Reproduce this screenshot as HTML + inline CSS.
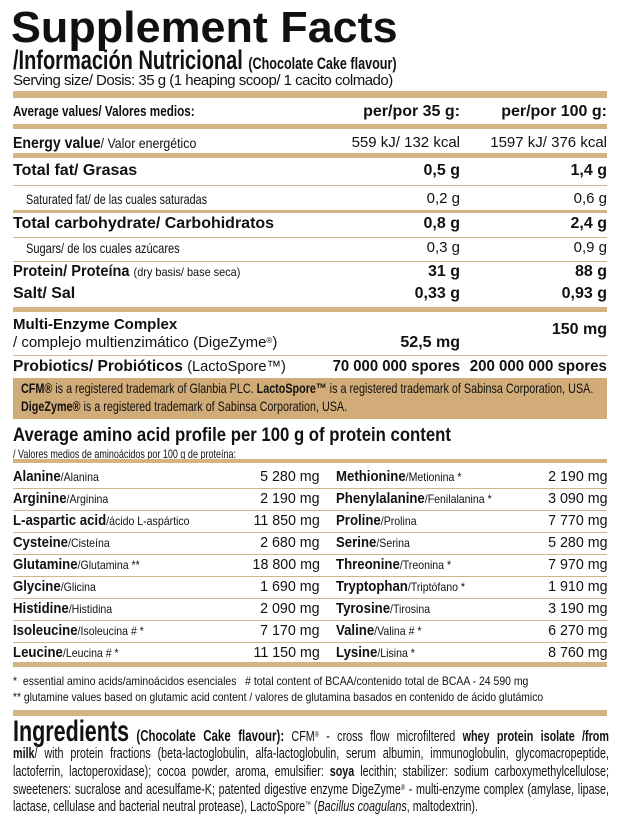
<!DOCTYPE html>
<html><head><meta charset="utf-8">
<style>
*{margin:0;padding:0;box-sizing:border-box}
body{width:625px;height:824px;background:#fff;position:relative;overflow:hidden;font-family:"Liberation Sans",sans-serif;color:#111}
.a{position:absolute;white-space:nowrap;line-height:20px;height:20px}
.L{left:13px;transform-origin:left center}
.R2{right:165px;text-align:right;transform-origin:right center}
.R3{right:18px;text-align:right;transform-origin:right center}
.b{font-weight:bold}
.bar{position:absolute;left:13px;width:594px;background:#d4b483}
.thin{position:absolute;left:13px;width:594px;height:1px;background:#cfb68c}
.f15{font-size:15px}.f14{font-size:14px}.f12{font-size:12px}
.m{font-size:15px}
.AL{left:13px;transform:scaleX(.88);transform-origin:left center}
.AV{right:305px;text-align:right;transform:scaleX(.95);transform-origin:right center}
.BL{left:336px;transform:scaleX(.88);transform-origin:left center}
.BV{right:17px;text-align:right;transform:scaleX(.95);transform-origin:right center}
sup{font-size:8px;vertical-align:4px;line-height:0}
.ing{position:absolute;left:13px;width:830px;font-size:15px;height:19px;line-height:19px;white-space:nowrap;transform:scaleX(.718);transform-origin:left center;text-align:justify;text-align-last:justify}
</style></head><body>
<div class="a b" style="left:11px;top:7px;height:42px;line-height:42px;font-size:44px;transform:scaleX(1.02);transform-origin:left center">Supplement Facts</div>
<div class="a b" style="left:13px;top:46px;height:28px;line-height:28px;font-size:27px;transform:scaleX(.74);transform-origin:left center">/Información Nutricional <span style="font-size:17px">(Chocolate Cake flavour)</span></div>
<div class="a f15" style="left:13px;top:71px;letter-spacing:-0.5px">Serving size/ Dosis: 35 g (1 heaping scoop/ 1 cacito colmado)</div>
<div class="bar" style="top:91px;height:7px"></div>
<div class="a b L" style="top:102px;font-size:15px;transform:scaleX(.78)">Average values/ Valores medios:</div>
<div class="a b R2" style="top:102px;font-size:16px">per/por 35 g:</div>
<div class="a b R3" style="top:102px;font-size:16px">per/por 100 g:</div>
<div class="bar" style="top:124px;height:5px"></div>
<div class="a L" style="top:133px;transform:scaleX(.88)"><b style="font-size:16px">Energy value</b><span class="f14">/ Valor energético</span></div>
<div class="a R2 m" style="top:133px">559 kJ/ 132 kcal</div>
<div class="a R3 m" style="top:133px">1597 kJ/ 376 kcal</div>
<div class="bar" style="top:153px;height:5px"></div>
<div class="a b L" style="top:161px;font-size:16px">Total fat/ Grasas</div>
<div class="a b R2" style="top:161px;font-size:16px">0,5 g</div>
<div class="a b R3" style="top:161px;font-size:16px">1,4 g</div>
<div class="thin" style="top:185px"></div>
<div class="a f14" style="left:26px;top:189px;transform:scaleX(.77);transform-origin:left center">Saturated fat/ de las cuales saturadas</div>
<div class="a R2 m" style="top:189px">0,2 g</div>
<div class="a R3 m" style="top:189px">0,6 g</div>
<div class="bar" style="top:210px;height:3px"></div>
<div class="a b L" style="top:214px;font-size:16px">Total carbohydrate/ Carbohidratos</div>
<div class="a b R2" style="top:214px;font-size:16px">0,8 g</div>
<div class="a b R3" style="top:214px;font-size:16px">2,4 g</div>
<div class="thin" style="top:237px"></div>
<div class="a f14" style="left:26px;top:238px;transform:scaleX(.79);transform-origin:left center">Sugars/ de los cuales azúcares</div>
<div class="a R2 m" style="top:238px">0,3 g</div>
<div class="a R3 m" style="top:238px">0,9 g</div>
<div class="thin" style="top:261px"></div>
<div class="a L" style="top:262px;transform:scaleX(.91)"><b style="font-size:16px">Protein/ Proteína</b> <span class="f12">(dry basis/ base seca)</span></div>
<div class="a b R2" style="top:262px;font-size:16px">31 g</div>
<div class="a b R3" style="top:262px;font-size:16px">88 g</div>
<div class="a b L" style="top:284px;font-size:16px">Salt/ Sal</div>
<div class="a b R2" style="top:284px;font-size:16px">0,33 g</div>
<div class="a b R3" style="top:284px;font-size:16px">0,93 g</div>
<div class="bar" style="top:307px;height:5px"></div>
<div class="a b L" style="top:315px;font-size:15px">Multi-Enzyme Complex</div>
<div class="a L m" style="top:333px">/ complejo multienzimático (DigeZyme<sup>®</sup>)</div>
<div class="a b R2" style="top:333px;font-size:16px">52,5 mg</div>
<div class="a b R3" style="top:320px;font-size:16px">150 mg</div>
<div class="thin" style="top:355px"></div>
<div class="a L" style="top:357px;transform:scaleX(.97)"><b style="font-size:16px">Probiotics/ Probióticos</b> <span class="m">(LactoSpore™)</span></div>
<div class="a b R2" style="top:357px;font-size:16px;transform:scaleX(.93)">70 000 000 spores</div>
<div class="a b R3" style="top:357px;font-size:16px;transform:scaleX(.94)">200 000 000 spores</div>
<div class="bar" style="top:378px;height:41px;background:#d2ac78"></div>
<div class="a f14" style="left:21px;top:379px;line-height:19px;transform:scaleX(.77);transform-origin:left center"><b>CFM®</b> is a registered trademark of Glanbia PLC. <b>LactoSpore™</b> is a registered trademark of Sabinsa Corporation, USA.</div>
<div class="a f14" style="left:21px;top:397px;line-height:19px;transform:scaleX(.77);transform-origin:left center"><b>DigeZyme®</b> is a registered trademark of Sabinsa Corporation, USA.</div>
<div class="a b" style="left:13px;top:424px;font-size:19px;line-height:24px;height:24px;transform:scaleX(.88);transform-origin:left center">Average amino acid profile per 100 g of protein content</div>
<div class="a f12" style="left:13px;top:444px;transform:scaleX(.75);transform-origin:left center">/ Valores medios de aminoácidos por 100 g de proteína:</div>
<div class="bar" style="top:459px;height:4px"></div>

<div class="a AL" style="top:467px"><b class="m">Alanine</b><span class="f12">/Alanina</span></div><div class="a AV m" style="top:467px">5 280 mg</div>
<div class="a BL" style="top:467px"><b class="m">Methionine</b><span class="f12">/Metionina *</span></div><div class="a BV m" style="top:467px">2 190 mg</div>
<div class="thin" style="top:488px"></div>
<div class="a AL" style="top:489px"><b class="m">Arginine</b><span class="f12">/Arginina</span></div><div class="a AV m" style="top:489px">2 190 mg</div>
<div class="a BL" style="top:489px"><b class="m">Phenylalanine</b><span class="f12">/Fenilalanina *</span></div><div class="a BV m" style="top:489px">3 090 mg</div>
<div class="thin" style="top:510px"></div>
<div class="a AL" style="top:511px"><b class="m">L-aspartic acid</b><span class="f12">/ácido L-aspártico</span></div><div class="a AV m" style="top:511px">11 850 mg</div>
<div class="a BL" style="top:511px"><b class="m">Proline</b><span class="f12">/Prolina</span></div><div class="a BV m" style="top:511px">7 770 mg</div>
<div class="thin" style="top:532px"></div>
<div class="a AL" style="top:533px"><b class="m">Cysteine</b><span class="f12">/Cisteína</span></div><div class="a AV m" style="top:533px">2 680 mg</div>
<div class="a BL" style="top:533px"><b class="m">Serine</b><span class="f12">/Serina</span></div><div class="a BV m" style="top:533px">5 280 mg</div>
<div class="thin" style="top:554px"></div>
<div class="a AL" style="top:555px"><b class="m">Glutamine</b><span class="f12">/Glutamina **</span></div><div class="a AV m" style="top:555px">18 800 mg</div>
<div class="a BL" style="top:555px"><b class="m">Threonine</b><span class="f12">/Treonina *</span></div><div class="a BV m" style="top:555px">7 970 mg</div>
<div class="thin" style="top:576px"></div>
<div class="a AL" style="top:577px"><b class="m">Glycine</b><span class="f12">/Glicina</span></div><div class="a AV m" style="top:577px">1 690 mg</div>
<div class="a BL" style="top:577px"><b class="m">Tryptophan</b><span class="f12">/Triptófano *</span></div><div class="a BV m" style="top:577px">1 910 mg</div>
<div class="thin" style="top:598px"></div>
<div class="a AL" style="top:599px"><b class="m">Histidine</b><span class="f12">/Histidina</span></div><div class="a AV m" style="top:599px">2 090 mg</div>
<div class="a BL" style="top:599px"><b class="m">Tyrosine</b><span class="f12">/Tirosina</span></div><div class="a BV m" style="top:599px">3 190 mg</div>
<div class="thin" style="top:620px"></div>
<div class="a AL" style="top:621px"><b class="m">Isoleucine</b><span class="f12">/Isoleucina # *</span></div><div class="a AV m" style="top:621px">7 170 mg</div>
<div class="a BL" style="top:621px"><b class="m">Valine</b><span class="f12">/Valina # *</span></div><div class="a BV m" style="top:621px">6 270 mg</div>
<div class="thin" style="top:642px"></div>
<div class="a AL" style="top:643px"><b class="m">Leucine</b><span class="f12">/Leucina # *</span></div><div class="a AV m" style="top:643px">11 150 mg</div>
<div class="a BL" style="top:643px"><b class="m">Lysine</b><span class="f12">/Lisina *</span></div><div class="a BV m" style="top:643px">8 760 mg</div>
<div class="bar" style="top:662px;height:5px"></div>
<div class="a f12" style="left:13px;top:671px;transform:scaleX(.87);transform-origin:left center">*&nbsp; essential amino acids/aminoácidos esenciales &nbsp; # total content of BCAA/contenido total de BCAA - 24 590 mg</div>
<div class="a f12" style="left:13px;top:687px;transform:scaleX(.86);transform-origin:left center">** glutamine values based on glutamic acid content / valores de glutamina basados en contenido de ácido glutámico</div>
<div class="bar" style="top:710px;height:6px"></div>

<div class="ing" style="top:719px;height:26px;line-height:26px"><b style="font-size:30px">Ingredients</b> <b style="font-size:16px">(Chocolate Cake flavour):</b> CFM<sup>®</sup> - cross flow microfiltered <b>whey protein isolate /from</b></div>
<div class="ing" style="top:744px"><b>milk</b>/ with protein fractions (beta-lactoglobulin, alfa-lactoglobulin, serum albumin, immunoglobulin, glycomacropeptide,</div>
<div class="ing" style="top:762px">lactoferrin, lactoperoxidase); cocoa powder, aroma, emulsifier: <b>soya</b> lecithin; stabilizer: sodium carboxymethylcellulose;</div>
<div class="ing" style="top:780px">sweeteners: sucralose and acesulfame-K; patented digestive enzyme DigeZyme<sup>®</sup> - multi-enzyme complex (amylase, lipase,</div>
<div class="ing" style="top:797px;text-align:left;text-align-last:left">lactase, cellulase and bacterial neutral protease), LactoSpore<sup>™</sup> (<i>Bacillus coagulans</i>, maltodextrin).</div>
</body></html>
